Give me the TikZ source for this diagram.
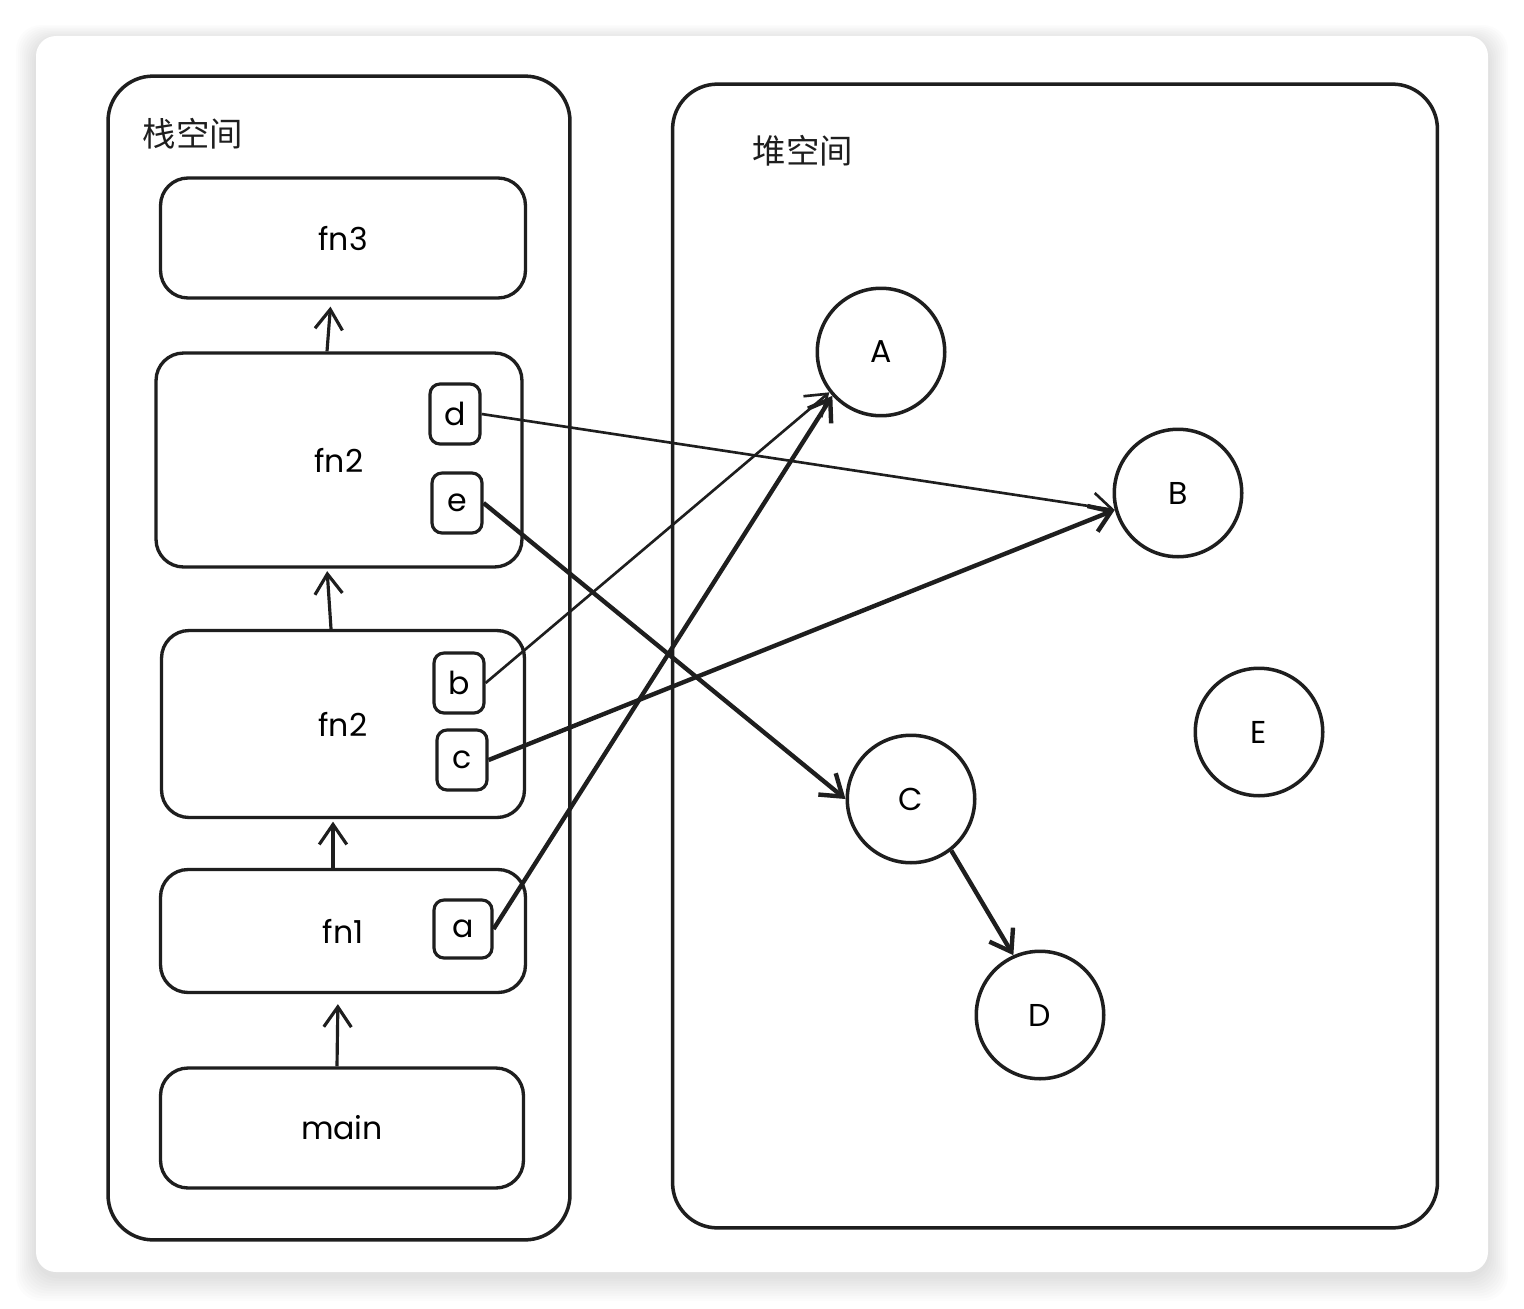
\documentclass[tikz,border=0pt]{standalone}
\usepackage{fontspec}
\setmainfont{Poppins}
\newfontfamily\cjk{Noto Sans CJK SC}
\usetikzlibrary{arrows.meta, positioning}
\definecolor{inkcolor}{RGB}{30,30,30}
\definecolor{cardcolor}{RGB}{255,255,255}

\begin{document}
\begin{tikzpicture}[
    x=0.02cm, y=-0.02cm,
    region/.style={draw=inkcolor, line width=2pt, rounded corners=0.9cm},
    frame/.style={draw=inkcolor, line width=1.9pt, rounded corners=0.55cm, minimum width=7.3cm, font=\fontsize{18}{21}\selectfont},
    slot/.style={draw=inkcolor, line width=1.8pt, rounded corners=0.2cm, minimum width=1cm, minimum height=1.2cm, font=\fontsize{18}{21}\selectfont},
    obj/.style={draw=inkcolor, line width=2pt, circle, minimum size=2.55cm, font=\fontsize{18}{21}\selectfont},
    title/.style={font=\cjk\fontsize{19}{22}\selectfont, text=inkcolor},
    link/.style={-{Straight Barb[length=4mm, width=5.5mm]}, line width=1.5pt, draw=inkcolor},
    heavy/.style={link, line width=2.5pt}
]
    % Page and card
    \useasboundingbox (0,0) rectangle (1524,1308);
    \fill[white] (0,0) rectangle (1524,1308);
    \foreach \i in {1,...,10}
        \fill[black, opacity=0.012, rounded corners=0.5cm] ({36-2*\i},{40-1.5*\i}) rectangle ({1488+2*\i},{1276+2.5*\i});
    \fill[cardcolor, rounded corners=0.4cm] (36,36) rectangle (1488,1272);

    % Regions
    \node[region, minimum width=9.24cm, minimum height=23.28cm] (stack) at (339,658) {};
    \node[region, minimum width=15.3cm, minimum height=22.88cm] (heap) at (1055,656) {};
    \node[title] (stacklabel) at (193,134) {栈空间};
    \node[title] (heaplabel) at (803,151) {堆空间};

    % Stack frames
    \node[frame, minimum height=2.4cm] (fn3) at (343,238) {fn3};
    \node[frame, minimum width=7.32cm, minimum height=4.28cm] (fn2top) at (339,460) {fn2};
    \node[frame, minimum width=7.26cm, minimum height=3.74cm] (fn2low) at (343,724) {fn2};
    \node[frame, minimum height=2.46cm] (fn1) at (343,931) {fn1};
    \node[frame, minimum width=7.26cm, minimum height=2.4cm] (main) at (342,1128) {main};

    % Local variables
    \node[slot] (d) at (455,414) {d};
    \node[slot] (e) at (457,503) {e};
    \node[slot] (b) at (459,683) {b};
    \node[slot] (c) at (462,760) {c};
    \node[slot, minimum width=1.16cm, minimum height=1.16cm] (a) at (463,929) {a};

    % Heap objects
    \node[obj] (A) at (881,352) {A};
    \node[obj] (B) at (1178,493) {B};
    \node[obj] (C) at (911,799) {C};
    \node[obj] (D) at (1040,1015) {D};
    \node[obj] (E) at (1259,732) {E};

    % Call chain
    \draw[link, line width=1.8pt, shorten >=0.2cm] ([xshift=-0.1cm]main.north) -- ([xshift=-0.1cm]fn1.south);
    \draw[link, line width=1.8pt, shorten >=0.05cm] ([xshift=-0.2cm]fn1.north) -- ([xshift=-0.2cm]fn2low.south);
    \draw[link, line width=1.8pt, shorten >=0.05cm] ([xshift=-0.24cm]fn2low.north) -- ([xshift=-0.24cm]fn2top.south);
    \draw[link, line width=1.8pt, shorten >=0.14cm] ([xshift=-0.24cm]fn2top.north) -- ([xshift=-0.24cm]fn3.south);

    % References
    \draw[link] (d.east) -- (B.195);
    \draw[heavy] (c.east) -- (B.195);
    \draw[heavy] (e.east) -- (C.180);
    \draw[link] (b.east) -- (A.218);
    \draw[heavy] (a.east) -- (A.222);
    \draw[heavy] (C.-52) -- (D.114);
\end{tikzpicture}
\end{document}
